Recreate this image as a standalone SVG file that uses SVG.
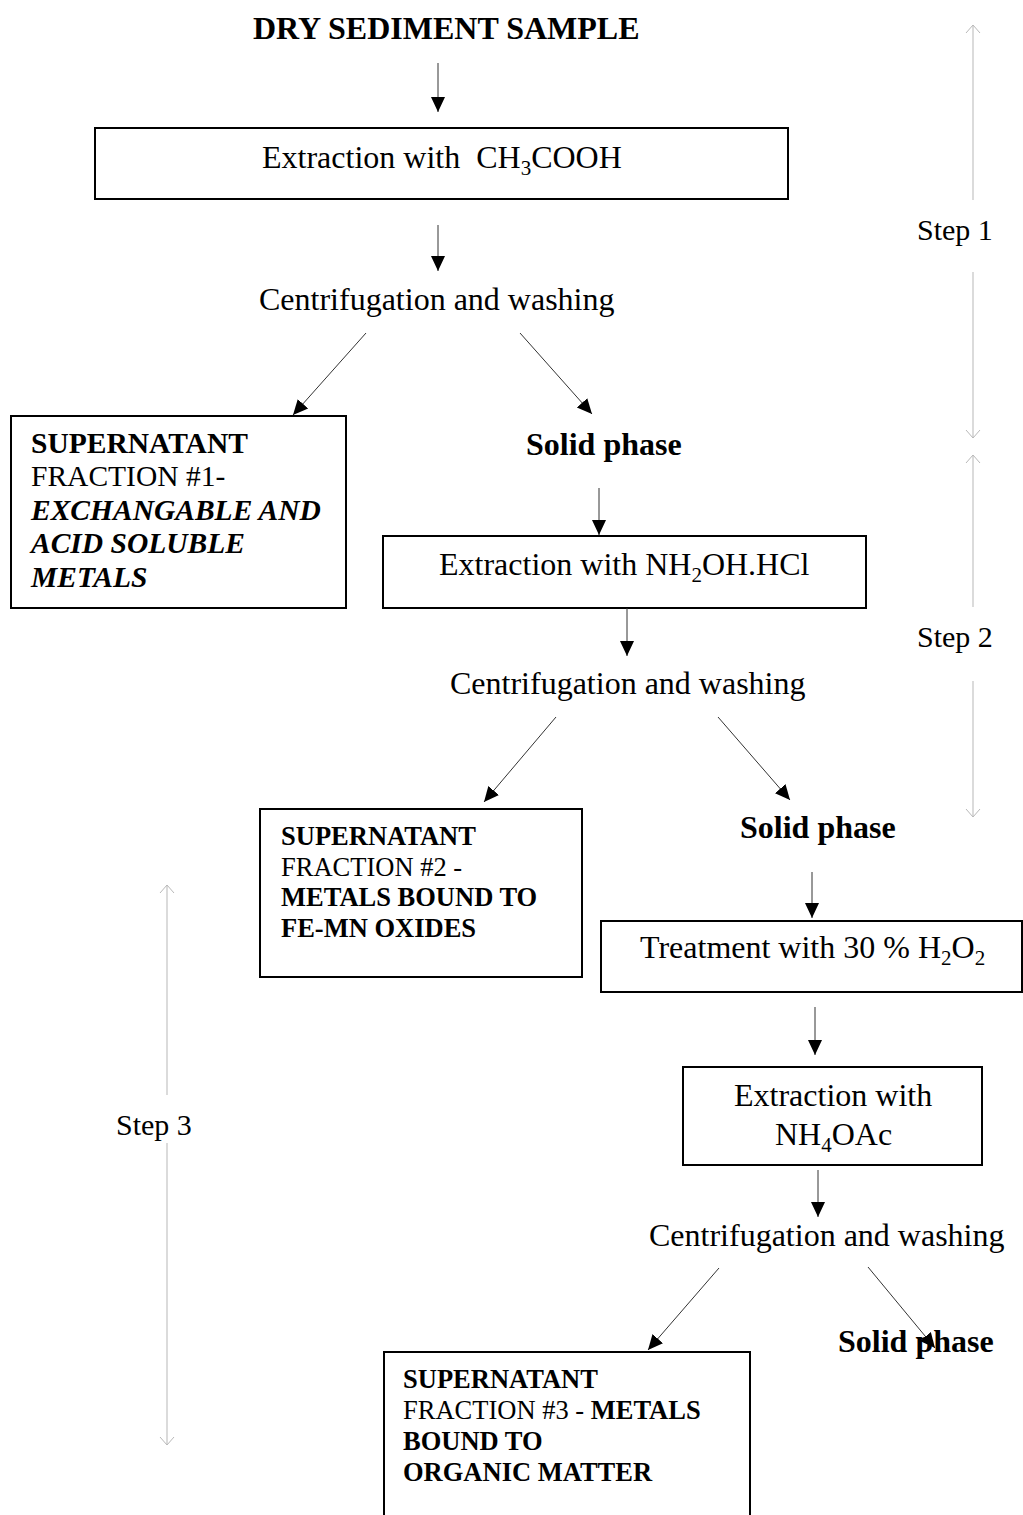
<svg xmlns="http://www.w3.org/2000/svg" width="1023" height="1515" viewBox="0 0 1023 1515">
<defs>
<marker id="ah" markerUnits="userSpaceOnUse" markerWidth="16" markerHeight="16" refX="15" refY="7" orient="auto" viewBox="0 0 16 14">
<path d="M0,0 L15,7 L0,14 z" fill="#000"/>
</marker>
<marker id="oh" markerUnits="userSpaceOnUse" markerWidth="12" markerHeight="16" refX="8" refY="7" orient="auto" viewBox="0 0 12 14">
<path d="M0,0 L8,7 L0,14" fill="none" stroke="#b8b8b8" stroke-width="1"/>
</marker>
<style>
text{font-family:"Liberation Serif","Times New Roman",serif;fill:#000;white-space:pre}
.m{font-size:32px}
.b{font-weight:bold}
.s1{font-size:29.5px}
.s2{font-size:26.5px}
.st{font-size:30px}
.box{fill:#fff;stroke:#000;stroke-width:2}
.c line{stroke:#333;stroke-width:1;marker-end:url(#ah)}
.sa line{stroke:#c8c8c8;stroke-width:1.3;marker-end:url(#oh)}
</style>
</defs>
<rect width="1023" height="1515" fill="#fff"/>

<g id="title"><text class="m b" x="253" y="39">DRY SEDIMENT SAMPLE</text></g>

<g id="extract1"><rect class="box" x="95" y="128" width="693" height="71"/>
<text class="m" x="262" y="168">Extraction with  CH<tspan font-size="21" dy="7">3</tspan><tspan dy="-7">COOH</tspan></text></g>

<g id="centri1"><text class="m" x="259" y="310">Centrifugation and washing</text></g>

<g id="super1"><rect class="box" x="11" y="416" width="335" height="192"/>
<text class="s1 b" x="31" y="453">SUPERNATANT</text>
<text class="s1" x="31" y="486">FRACTION #1-</text>
<text class="s1 b" font-style="italic" x="31" y="520">EXCHANGABLE AND</text>
<text class="s1 b" font-style="italic" x="31" y="553">ACID SOLUBLE</text>
<text class="s1 b" font-style="italic" x="31" y="587">METALS</text></g>

<g id="solid1"><text class="m b" x="526" y="455">Solid phase</text></g>

<g id="extract2"><rect class="box" x="383" y="536" width="483" height="72"/>
<text class="m" x="439" y="575">Extraction with NH<tspan font-size="21" dy="7">2</tspan><tspan dy="-7">OH.HCl</tspan></text></g>

<g id="centri2"><text class="m" x="450" y="694">Centrifugation and washing</text></g>

<g id="super2"><rect class="box" x="260" y="809" width="322" height="168"/>
<text class="s2 b" x="281" y="845">SUPERNATANT</text>
<text class="s2" x="281" y="876">FRACTION #2 -</text>
<text class="s2 b" x="281" y="906">METALS BOUND TO</text>
<text class="s2 b" x="281" y="937">FE-MN OXIDES</text></g>

<g id="solid2"><text class="m b" x="740" y="838">Solid phase</text></g>

<g id="treat"><rect class="box" x="601" y="921" width="421" height="71"/>
<text class="m" x="640" y="958">Treatment with 30 % H<tspan font-size="21" dy="7">2</tspan><tspan dy="-7">O</tspan><tspan font-size="21" dy="7">2</tspan></text></g>

<g id="extract3"><rect class="box" x="683" y="1067" width="299" height="98"/>
<text class="m" x="734" y="1106">Extraction with</text>
<text class="m" x="775" y="1145">NH<tspan font-size="21" dy="7">4</tspan><tspan dy="-7">OAc</tspan></text></g>

<g id="centri3"><text class="m" x="649" y="1246">Centrifugation and washing</text></g>

<g id="super3"><rect class="box" x="384" y="1352" width="366" height="200"/>
<text class="s2 b" x="403" y="1388">SUPERNATANT</text>
<text class="s2" x="403" y="1419">FRACTION #3 - <tspan font-weight="bold">METALS</tspan></text>
<text class="s2 b" x="403" y="1450">BOUND TO</text>
<text class="s2 b" x="403" y="1481">ORGANIC MATTER</text></g>

<g id="solid3"><text class="m b" x="838" y="1352">Solid phase</text></g>

<g id="step1"><text class="st" x="917" y="240">Step 1</text></g>
<g id="step2"><text class="st" x="917" y="647">Step 2</text></g>
<g id="step3"><text class="st" x="116" y="1135">Step 3</text></g>

<g id="step-arrows" class="sa">
<line x1="973" y1="200" x2="973" y2="25"/>
<line x1="973" y1="272" x2="973" y2="438"/>
<line x1="973" y1="607" x2="973" y2="455"/>
<line x1="973" y1="681" x2="973" y2="817"/>
<line x1="167" y1="1095" x2="167" y2="885"/>
<line x1="167" y1="1143" x2="167" y2="1445"/>
</g>

<g id="connectors" class="c">
<line x1="438" y1="63" x2="438" y2="112"/>
<line x1="438" y1="225" x2="438" y2="271"/>
<line x1="366" y1="333" x2="293" y2="415"/>
<line x1="520" y1="333" x2="592" y2="414"/>
<line x1="599" y1="488" x2="599" y2="535"/>
<line x1="627" y1="608" x2="627" y2="656"/>
<line x1="556" y1="717" x2="484" y2="802"/>
<line x1="718" y1="717" x2="790" y2="800"/>
<line x1="812" y1="872" x2="812" y2="918"/>
<line x1="815" y1="1007" x2="815" y2="1055"/>
<line x1="818" y1="1170" x2="818" y2="1217"/>
<line x1="719" y1="1268" x2="648" y2="1350"/>
<line x1="868" y1="1267" x2="935" y2="1348"/>
</g>
</svg>
